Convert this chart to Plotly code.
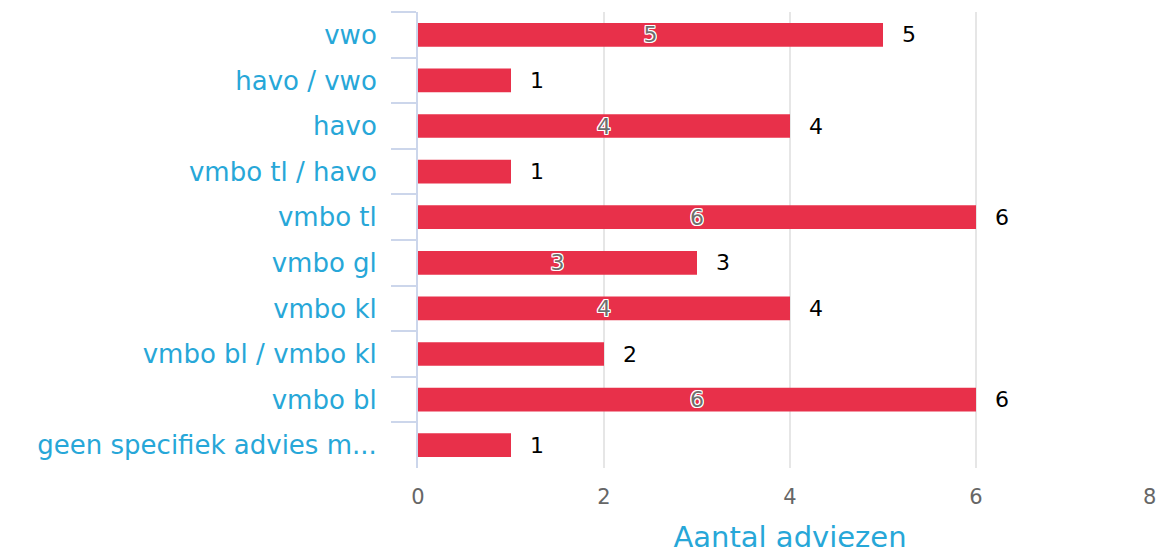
import plotly.graph_objects as go

categories = ["vwo", "havo / vwo", "havo", "vmbo tl / havo", "vmbo tl", "vmbo gl",
              "vmbo kl", "vmbo bl / vmbo kl", "vmbo bl", "geen specifiek advies m..."]
values = [5, 1, 4, 1, 6, 3, 4, 2, 6, 1]
x_ticks = [0, 2, 4, 6, 8]
axis_title = "Aantal adviezen"

inside_text = [str(v) if v >= 3 else "" for v in values]

FONT = "DejaVu Sans"
BLUE = "#27a7d8"
GRAY = "#666666"

fig = go.Figure()
fig.add_trace(go.Bar(
    y=categories, x=values, orientation="h",
    marker=dict(color="#e8304a", line=dict(width=0)),
    width=0.52,
    text=inside_text, textposition="inside", insidetextanchor="middle",
    textangle=0, constraintext="none",
    textfont=dict(family=FONT, size=22, color="#6e6e6e",
                  shadow="1px 1px 0 #fff, -1px -1px 0 #fff, 1px -1px 0 #fff, -1px 1px 0 #fff, 0 1px 0 #fff, 0 -1px 0 #fff, 1px 0 0 #fff, -1px 0 0 #fff"),
    hoverinfo="skip",
))

for c, v in zip(categories, values):
    fig.add_annotation(x=v, y=c, text=str(v), showarrow=False, xanchor="left",
                       xshift=17, font=dict(family=FONT, size=22, color="#000000"))

# last tick label at the right edge: justified inward (as in the reference)
fig.add_annotation(x=x_ticks[-1], xref="x", y=0, yref="paper", text=str(x_ticks[-1]),
                   showarrow=False, xanchor="right", yanchor="middle", xshift=-4, yshift=-29,
                   font=dict(family=FONT, size=21, color=GRAY))

fig.update_layout(
    width=1157, height=546,
    margin=dict(l=410, r=3, t=4, b=86),
    plot_bgcolor="white", paper_bgcolor="white",
    showlegend=False,
    bargap=0.48,
)
fig.update_xaxes(
    range=[0, 8], tickvals=x_ticks,
    ticktext=[str(t) for t in x_ticks[:-1]] + [""],
    showgrid=True, gridcolor="#e6e6e6", gridwidth=2,
    zeroline=False, showline=False, ticks="",
    tickfont=dict(family=FONT, size=21, color=GRAY),
    ticklabelstandoff=14, automargin=False,
    title=dict(text=axis_title, font=dict(family=FONT, size=29, color=BLUE), standoff=22),
)
fig.update_yaxes(
    type="category", categoryorder="array", categoryarray=categories,
    autorange="reversed", automargin=False,
    showline=True, linecolor="#ccd6eb", linewidth=2,
    ticks="outside", tickson="boundaries", ticklen=25, tickcolor="#ccd6eb", tickwidth=2,
    showgrid=False, zeroline=False,
    tickfont=dict(family=FONT, size=26, color=BLUE),
    ticklabelstandoff=34,
)

fig.write_html("out.html")
